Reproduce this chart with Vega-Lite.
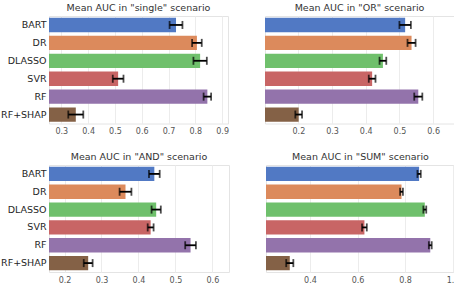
{
  "$schema": "https://vega.github.io/schema/vega-lite/v6.json",
  "padding": {"left": 0, "top": 2, "right": 0, "bottom": 0},
  "background": "white",
  "datasets": {
    "auc": [
      {"scenario": "single", "model": "BART", "auc": 0.728, "err": 0.024},
      {"scenario": "single", "model": "DR", "auc": 0.806, "err": 0.018},
      {"scenario": "single", "model": "DLASSO", "auc": 0.818, "err": 0.025},
      {"scenario": "single", "model": "SVR", "auc": 0.512, "err": 0.02},
      {"scenario": "single", "model": "RF", "auc": 0.845, "err": 0.014},
      {"scenario": "single", "model": "RF+SHAP", "auc": 0.354, "err": 0.028},
      {"scenario": "OR", "model": "BART", "auc": 0.517, "err": 0.017},
      {"scenario": "OR", "model": "DR", "auc": 0.536, "err": 0.012},
      {"scenario": "OR", "model": "DLASSO", "auc": 0.451, "err": 0.01},
      {"scenario": "OR", "model": "SVR", "auc": 0.419, "err": 0.01},
      {"scenario": "OR", "model": "RF", "auc": 0.556, "err": 0.012},
      {"scenario": "OR", "model": "RF+SHAP", "auc": 0.201, "err": 0.01},
      {"scenario": "AND", "model": "BART", "auc": 0.443, "err": 0.0145},
      {"scenario": "AND", "model": "DR", "auc": 0.365, "err": 0.016},
      {"scenario": "AND", "model": "DLASSO", "auc": 0.448, "err": 0.0125},
      {"scenario": "AND", "model": "SVR", "auc": 0.433, "err": 0.008},
      {"scenario": "AND", "model": "RF", "auc": 0.541, "err": 0.0145},
      {"scenario": "AND", "model": "RF+SHAP", "auc": 0.264, "err": 0.012},
      {"scenario": "SUM", "model": "BART", "auc": 0.859, "err": 0.007},
      {"scenario": "SUM", "model": "DR", "auc": 0.785, "err": 0.006},
      {"scenario": "SUM", "model": "DLASSO", "auc": 0.883, "err": 0.006},
      {"scenario": "SUM", "model": "SVR", "auc": 0.629, "err": 0.01},
      {"scenario": "SUM", "model": "RF", "auc": 0.906, "err": 0.006},
      {"scenario": "SUM", "model": "RF+SHAP", "auc": 0.315, "err": 0.015}
    ]
  },
  "spacing": 15,
  "vconcat": [
    {
      "spacing": 35,
      "hconcat": [
        {
          "width": 179, "height": 107.5,
          "title": "Mean AUC in \"single\" scenario",
          "data": {"name": "auc"},
          "transform": [{"filter": "datum.scenario === 'single'"}],
          "encoding": {
            "y": {"field": "model", "type": "nominal", "sort": null, "axis": {"title": null},
                  "scale": {"paddingInner": 0.2, "paddingOuter": 0.1}},
            "x": {"field": "auc", "type": "quantitative",
                  "scale": {"domain": [0.254, 0.922], "nice": false, "zero": false},
                  "axis": {"title": null, "values": [0.3, 0.4, 0.5, 0.6, 0.7, 0.8, 0.9], "format": ".1f"}}
          },
          "layer": [
            {"mark": {"type": "bar", "clip": true},
             "encoding": {"color": {"field": "model", "type": "nominal", "sort": null, "legend": null,
               "scale": {"domain": ["BART", "DR", "DLASSO", "SVR", "RF", "RF+SHAP"],
                         "range": ["#5179c4", "#dc8a5c", "#6fc06c", "#c86565", "#9373ab", "#846146"]}}}},
            {"mark": {"type": "errorbar", "color": "black", "thickness": 1.8, "ticks": {"size": 8}},
             "encoding": {"xError": {"field": "err"}}}
          ]
        },
        {
          "width": 189, "height": 107.5,
          "title": "Mean AUC in \"OR\" scenario",
          "data": {"name": "auc"},
          "transform": [{"filter": "datum.scenario === 'OR'"}],
          "encoding": {
            "y": {"field": "model", "type": "nominal", "sort": null, "axis": null,
                  "scale": {"paddingInner": 0.2, "paddingOuter": 0.1}},
            "x": {"field": "auc", "type": "quantitative",
                  "scale": {"domain": [0.101, 0.662], "nice": false, "zero": false},
                  "axis": {"title": null, "values": [0.2, 0.3, 0.4, 0.5, 0.6], "format": ".1f"}}
          },
          "layer": [
            {"mark": {"type": "bar", "clip": true},
             "encoding": {"color": {"field": "model", "type": "nominal", "sort": null, "legend": null,
               "scale": {"domain": ["BART", "DR", "DLASSO", "SVR", "RF", "RF+SHAP"],
                         "range": ["#5179c4", "#dc8a5c", "#6fc06c", "#c86565", "#9373ab", "#846146"]}}}},
            {"mark": {"type": "errorbar", "color": "black", "thickness": 1.8, "ticks": {"size": 8}},
             "encoding": {"xError": {"field": "err"}}}
          ]
        }
      ]
    },
    {
      "spacing": 35,
      "hconcat": [
        {
          "width": 180, "height": 107,
          "title": "Mean AUC in \"AND\" scenario",
          "data": {"name": "auc"},
          "transform": [{"filter": "datum.scenario === 'AND'"}],
          "encoding": {
            "y": {"field": "model", "type": "nominal", "sort": null, "axis": {"title": null},
                  "scale": {"paddingInner": 0.2, "paddingOuter": 0.1}},
            "x": {"field": "auc", "type": "quantitative",
                  "scale": {"domain": [0.158, 0.645], "nice": false, "zero": false},
                  "axis": {"title": null, "values": [0.2, 0.3, 0.4, 0.5, 0.6], "format": ".1f"}}
          },
          "layer": [
            {"mark": {"type": "bar", "clip": true},
             "encoding": {"color": {"field": "model", "type": "nominal", "sort": null, "legend": null,
               "scale": {"domain": ["BART", "DR", "DLASSO", "SVR", "RF", "RF+SHAP"],
                         "range": ["#5179c4", "#dc8a5c", "#6fc06c", "#c86565", "#9373ab", "#846146"]}}}},
            {"mark": {"type": "errorbar", "color": "black", "thickness": 1.8, "ticks": {"size": 8}},
             "encoding": {"xError": {"field": "err"}}}
          ]
        },
        {
          "width": 189, "height": 107,
          "title": "Mean AUC in \"SUM\" scenario",
          "data": {"name": "auc"},
          "transform": [{"filter": "datum.scenario === 'SUM'"}],
          "encoding": {
            "y": {"field": "model", "type": "nominal", "sort": null, "axis": null,
                  "scale": {"paddingInner": 0.2, "paddingOuter": 0.1}},
            "x": {"field": "auc", "type": "quantitative",
                  "scale": {"domain": [0.215, 1.01], "nice": false, "zero": false},
                  "axis": {"title": null, "values": [0.4, 0.6, 0.8, 1.0], "format": ".1f"}}
          },
          "layer": [
            {"mark": {"type": "bar", "clip": true},
             "encoding": {"color": {"field": "model", "type": "nominal", "sort": null, "legend": null,
               "scale": {"domain": ["BART", "DR", "DLASSO", "SVR", "RF", "RF+SHAP"],
                         "range": ["#5179c4", "#dc8a5c", "#6fc06c", "#c86565", "#9373ab", "#846146"]}}}},
            {"mark": {"type": "errorbar", "color": "black", "thickness": 1.8, "ticks": {"size": 8}},
             "encoding": {"xError": {"field": "err"}}}
          ]
        }
      ]
    }
  ],
  "resolve": {"scale": {"color": "shared"}},
  "config": {
    "font": "DejaVu Sans",
    "view": {"stroke": "#e4e4e4", "strokeWidth": 1},
    "axis": {"domain": false, "ticks": false, "grid": false},
    "axisX": {"grid": true, "gridColor": "#ececec", "gridWidth": 1, "labelFontSize": 8,
              "labelColor": "#555555", "labelPadding": 4},
    "axisY": {"labelFontSize": 9.5, "labelColor": "#262626", "labelPadding": 3},
    "title": {"fontSize": 9.5, "fontWeight": "normal", "color": "#333333", "offset": 4}
  }
}
